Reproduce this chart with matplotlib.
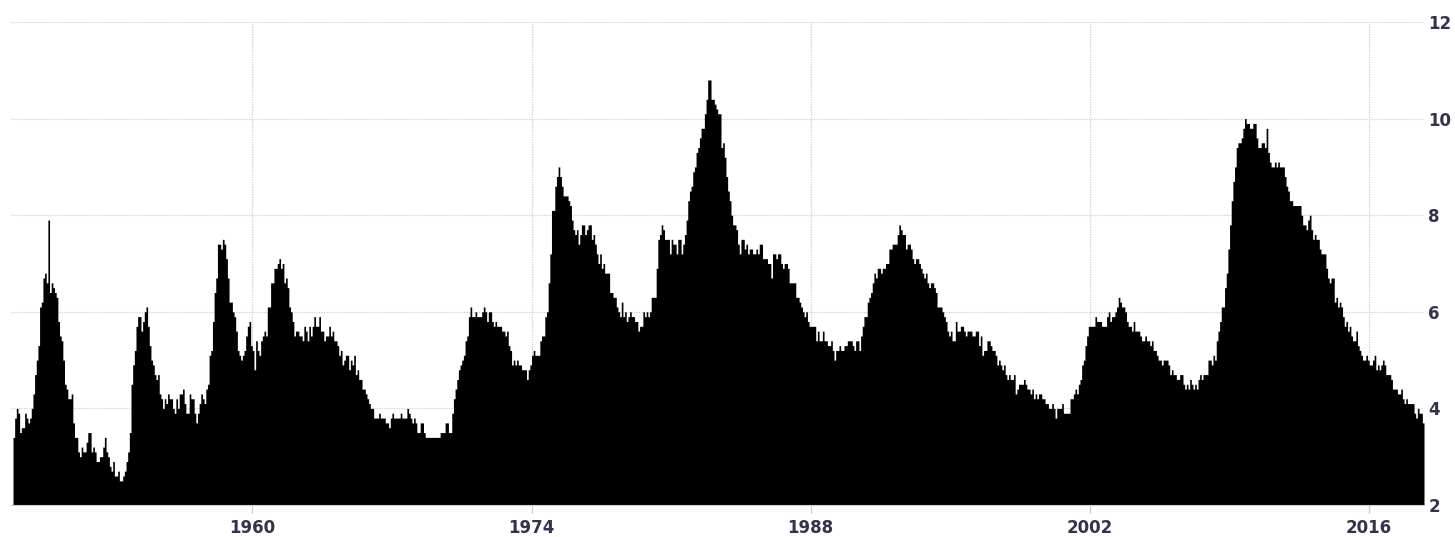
import numpy as np
import matplotlib as mpl
mpl.use('Agg')
import matplotlib.pyplot as plt

# US unemployment rate, monthly, Jan 1948 - Sep 2018 (percent)
start_year = 1948

rate_1940s = [
    3.4, 3.8, 4.0, 3.9, 3.5, 3.6, 3.6, 3.9, 3.8, 3.7, 3.8, 4.0,  # 1948
    4.3, 4.7, 5.0, 5.3, 6.1, 6.2, 6.7, 6.8, 6.6, 7.9, 6.4, 6.6,  # 1949
]
rate_1950s = [
    6.5, 6.4, 6.3, 5.8, 5.5, 5.4, 5.0, 4.5, 4.4, 4.2, 4.2, 4.3,
    3.7, 3.4, 3.4, 3.1, 3.0, 3.2, 3.1, 3.1, 3.3, 3.5, 3.5, 3.1,
    3.2, 3.1, 2.9, 2.9, 3.0, 3.0, 3.2, 3.4, 3.1, 3.0, 2.8, 2.7,
    2.9, 2.6, 2.6, 2.7, 2.5, 2.5, 2.6, 2.7, 2.9, 3.1, 3.5, 4.5,
    4.9, 5.2, 5.7, 5.9, 5.9, 5.6, 5.8, 6.0, 6.1, 5.7, 5.3, 5.0,
    4.9, 4.7, 4.6, 4.7, 4.3, 4.2, 4.0, 4.2, 4.1, 4.3, 4.2, 4.2,
    4.0, 3.9, 4.2, 4.0, 4.3, 4.3, 4.4, 4.1, 3.9, 3.9, 4.3, 4.2,
    4.2, 3.9, 3.7, 3.9, 4.1, 4.3, 4.2, 4.1, 4.4, 4.5, 5.1, 5.2,
    5.8, 6.4, 6.7, 7.4, 7.4, 7.3, 7.5, 7.4, 7.1, 6.7, 6.2, 6.2,
    6.0, 5.9, 5.6, 5.2, 5.1, 5.0, 5.1, 5.2, 5.5, 5.7, 5.8, 5.3,
]
rate_1960s = [
    5.2, 4.8, 5.4, 5.2, 5.1, 5.4, 5.5, 5.6, 5.5, 6.1, 6.1, 6.6,
    6.6, 6.9, 6.9, 7.0, 7.1, 6.9, 7.0, 6.6, 6.7, 6.5, 6.1, 6.0,
    5.8, 5.5, 5.6, 5.6, 5.5, 5.5, 5.4, 5.7, 5.6, 5.4, 5.7, 5.5,
    5.7, 5.9, 5.7, 5.7, 5.9, 5.6, 5.6, 5.4, 5.5, 5.5, 5.7, 5.5,
    5.6, 5.4, 5.4, 5.3, 5.1, 5.2, 4.9, 5.0, 5.1, 5.1, 4.8, 5.0,
    4.9, 5.1, 4.7, 4.8, 4.6, 4.6, 4.4, 4.4, 4.3, 4.2, 4.1, 4.0,
    4.0, 3.8, 3.8, 3.8, 3.9, 3.8, 3.8, 3.8, 3.7, 3.7, 3.6, 3.8,
    3.9, 3.8, 3.8, 3.8, 3.8, 3.9, 3.8, 3.8, 3.8, 4.0, 3.9, 3.8,
    3.7, 3.8, 3.7, 3.5, 3.5, 3.7, 3.7, 3.5, 3.4, 3.4, 3.4, 3.4,
    3.4, 3.4, 3.4, 3.4, 3.4, 3.5, 3.5, 3.5, 3.7, 3.7, 3.5, 3.5,
]
rate_1970s = [
    3.9, 4.2, 4.4, 4.6, 4.8, 4.9, 5.0, 5.1, 5.4, 5.5, 5.9, 6.1,
    5.9, 5.9, 6.0, 5.9, 5.9, 5.9, 6.0, 6.1, 6.0, 5.8, 6.0, 6.0,
    5.8, 5.7, 5.8, 5.7, 5.7, 5.7, 5.6, 5.6, 5.5, 5.6, 5.3, 5.2,
    4.9, 5.0, 4.9, 5.0, 4.9, 4.9, 4.8, 4.8, 4.8, 4.6, 4.8, 4.9,
    5.1, 5.2, 5.1, 5.1, 5.1, 5.4, 5.5, 5.5, 5.9, 6.0, 6.6, 7.2,
    8.1, 8.1, 8.6, 8.8, 9.0, 8.8, 8.6, 8.4, 8.4, 8.4, 8.3, 8.2,
    7.9, 7.7, 7.6, 7.7, 7.4, 7.6, 7.8, 7.8, 7.6, 7.7, 7.8, 7.8,
    7.5, 7.6, 7.4, 7.2, 7.0, 7.2, 6.9, 7.0, 6.8, 6.8, 6.8, 6.4,
    6.4, 6.3, 6.3, 6.1, 6.0, 5.9, 6.2, 5.9, 6.0, 5.8, 5.9, 6.0,
    5.9, 5.9, 5.8, 5.8, 5.6, 5.7, 5.7, 6.0, 5.9, 6.0, 5.9, 6.0,
]
rate_1980s = [
    6.3, 6.3, 6.3, 6.9, 7.5, 7.6, 7.8, 7.7, 7.5, 7.5, 7.5, 7.2,
    7.5, 7.4, 7.4, 7.2, 7.5, 7.5, 7.2, 7.4, 7.6, 7.9, 8.3, 8.5,
    8.6, 8.9, 9.0, 9.3, 9.4, 9.6, 9.8, 9.8, 10.1, 10.4, 10.8, 10.8,
    10.4, 10.4, 10.3, 10.2, 10.1, 10.1, 9.4, 9.5, 9.2, 8.8, 8.5, 8.3,
    8.0, 7.8, 7.8, 7.7, 7.4, 7.2, 7.5, 7.5, 7.3, 7.4, 7.2, 7.3,
    7.3, 7.2, 7.2, 7.3, 7.2, 7.4, 7.4, 7.1, 7.1, 7.1, 7.0, 7.0,
    6.7, 7.2, 7.2, 7.1, 7.2, 7.2, 7.0, 6.9, 7.0, 7.0, 6.9, 6.6,
    6.6, 6.6, 6.6, 6.3, 6.3, 6.2, 6.1, 6.0, 5.9, 6.0, 5.8, 5.7,
    5.7, 5.7, 5.7, 5.4, 5.6, 5.4, 5.4, 5.6, 5.4, 5.4, 5.3, 5.3,
    5.4, 5.2, 5.0, 5.2, 5.2, 5.3, 5.2, 5.2, 5.3, 5.3, 5.4, 5.4,
]
rate_1990s = [
    5.4, 5.3, 5.2, 5.4, 5.4, 5.2, 5.5, 5.7, 5.9, 5.9, 6.2, 6.3,
    6.4, 6.6, 6.8, 6.7, 6.9, 6.9, 6.8, 6.9, 6.9, 7.0, 7.0, 7.3,
    7.3, 7.4, 7.4, 7.4, 7.6, 7.8, 7.7, 7.6, 7.6, 7.3, 7.4, 7.4,
    7.3, 7.1, 7.0, 7.1, 7.1, 7.0, 6.9, 6.8, 6.7, 6.8, 6.6, 6.5,
    6.6, 6.6, 6.5, 6.4, 6.1, 6.1, 6.1, 6.0, 5.9, 5.8, 5.6, 5.5,
    5.6, 5.4, 5.4, 5.8, 5.6, 5.6, 5.7, 5.7, 5.6, 5.5, 5.6, 5.6,
    5.6, 5.5, 5.5, 5.6, 5.6, 5.3, 5.5, 5.1, 5.2, 5.2, 5.4, 5.4,
    5.3, 5.2, 5.2, 5.1, 4.9, 5.0, 4.9, 4.8, 4.9, 4.7, 4.6, 4.7,
    4.6, 4.6, 4.7, 4.3, 4.4, 4.5, 4.5, 4.5, 4.6, 4.5, 4.4, 4.4,
    4.3, 4.4, 4.2, 4.3, 4.2, 4.3, 4.3, 4.2, 4.2, 4.1, 4.1, 4.0,
]
rate_2000s = [
    4.0, 4.1, 4.0, 3.8, 4.0, 4.0, 4.0, 4.1, 3.9, 3.9, 3.9, 3.9,
    4.2, 4.2, 4.3, 4.4, 4.3, 4.5, 4.6, 4.9, 5.0, 5.3, 5.5, 5.7,
    5.7, 5.7, 5.7, 5.9, 5.8, 5.8, 5.8, 5.7, 5.7, 5.7, 5.9, 6.0,
    5.8, 5.9, 5.9, 6.0, 6.1, 6.3, 6.2, 6.1, 6.1, 6.0, 5.8, 5.7,
    5.7, 5.6, 5.8, 5.6, 5.6, 5.6, 5.5, 5.4, 5.4, 5.5, 5.4, 5.4,
    5.3, 5.4, 5.2, 5.2, 5.1, 5.0, 5.0, 4.9, 5.0, 5.0, 5.0, 4.9,
    4.7, 4.8, 4.7, 4.7, 4.6, 4.6, 4.7, 4.7, 4.5, 4.4, 4.5, 4.4,
    4.6, 4.5, 4.4, 4.5, 4.4, 4.6, 4.7, 4.6, 4.7, 4.7, 4.7, 5.0,
    5.0, 4.9, 5.1, 5.0, 5.4, 5.6, 5.8, 6.1, 6.1, 6.5, 6.8, 7.3,
    7.8, 8.3, 8.7, 9.0, 9.4, 9.5, 9.5, 9.6, 9.8, 10.0, 9.9, 9.9,
]
rate_2010s = [
    9.8, 9.8, 9.9, 9.9, 9.6, 9.4, 9.4, 9.5, 9.5, 9.4, 9.8, 9.3,
    9.1, 9.0, 9.0, 9.1, 9.0, 9.1, 9.0, 9.0, 9.0, 8.8, 8.6, 8.5,
    8.3, 8.3, 8.2, 8.2, 8.2, 8.2, 8.2, 8.0, 7.8, 7.8, 7.7, 7.9,
    8.0, 7.7, 7.5, 7.6, 7.5, 7.5, 7.3, 7.2, 7.2, 7.2, 6.9, 6.7,
    6.6, 6.7, 6.7, 6.2, 6.3, 6.1, 6.2, 6.1, 5.9, 5.7, 5.8, 5.6,
    5.7, 5.5, 5.4, 5.4, 5.6, 5.3, 5.2, 5.1, 5.0, 5.0, 5.1, 5.0,
    4.9, 4.9, 5.0, 5.1, 4.8, 4.9, 4.8, 4.9, 5.0, 4.9, 4.7, 4.7,
    4.7, 4.6, 4.4, 4.4, 4.4, 4.3, 4.3, 4.4, 4.2, 4.1, 4.2, 4.1,
    4.1, 4.1, 4.1, 3.9, 3.8, 4.0, 3.9, 3.9, 3.7,
]

tick_years = [1960, 1974, 1988, 2002, 2016]
y_ticks = [2, 4, 6, 8, 10, 12]

rate = np.array(rate_1940s + rate_1950s + rate_1960s + rate_1970s
                + rate_1980s + rate_1990s + rate_2000s + rate_2010s)
t = start_year + np.arange(len(rate) + 1) / 12.0
y = np.append(rate, rate[-1])

W, H = 1455, 537
fig = plt.figure(figsize=(W / 100, H / 100), dpi=100)
ax = fig.add_axes([11 / W, 1 - 505 / H, (1424 - 11) / W, (505 - 22) / H])

ax.fill_between(t, 2, y, step='post', color='black', linewidth=0, zorder=3)

ax.set_xlim(1947.9, t[-1])
ax.set_ylim(2, 12)
ax.set_xticks(tick_years)
ax.set_xticklabels([str(v) for v in tick_years])
ax.set_yticks(y_ticks)

ax.grid(True, color='#cfcfcf', linestyle=(0, (1, 1)), linewidth=0.9, zorder=0)
ax.set_axisbelow(True)

for side in ['left', 'top', 'right']:
    ax.spines[side].set_visible(False)
ax.spines['bottom'].set_color('#cccccc')
ax.spines['bottom'].set_zorder(4)

ax.yaxis.tick_right()
ax.tick_params(axis='y', length=0, pad=3)
ax.tick_params(axis='x', length=6, width=1, color='#cccccc', pad=4)
for lab in ax.get_xticklabels() + ax.get_yticklabels():
    lab.set_fontweight('bold')
    lab.set_fontsize(12)
    lab.set_color('#33334d')

fig.savefig('out.png', dpi=100)
